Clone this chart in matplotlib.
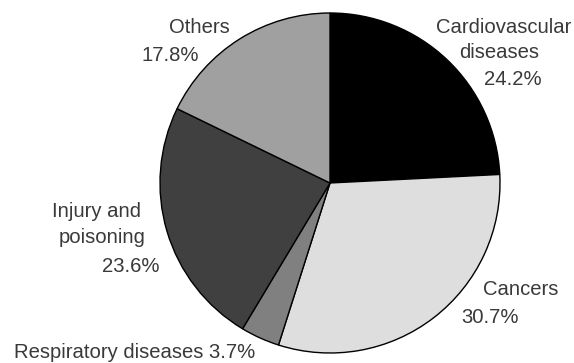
import matplotlib
matplotlib.use("Agg")
import matplotlib.pyplot as plt

# causes of death, share in percent, clockwise from 12 o'clock
causes = ["Cardiovascular diseases", "Cancers", "Respiratory diseases",
          "Injury and poisoning", "Others"]
shares = [24.2, 30.7, 3.7, 23.6, 17.8]
colors = ["#000000", "#dedede", "#808080", "#404040", "#a0a0a0"]

W, H = 574, 363
fig = plt.figure(figsize=(W / 100, H / 100), dpi=100)
ax = fig.add_axes([0, 0, 1, 1])

ax.pie(shares, colors=colors, startangle=90, counterclock=False,
       center=(330, H - 183), radius=170,
       wedgeprops=dict(edgecolor="black", linewidth=1.0))
ax.set_xlim(0, W)
ax.set_ylim(0, H)
ax.set_aspect("equal")
ax.axis("off")

txt = dict(fontsize=14.6, color="#3a3a3a", family="Liberation Sans",
           va="baseline", ha="center")

def label(x, y, s):
    # x: centre of the line, y: baseline, both in pixels from top-left
    ax.text(x, H - y, s, **txt)

pct = {c: f"{v:.1f}%" for c, v in zip(causes, shares)}

label(504, 33, "Cardiovascular")
label(499, 58, "diseases")
label(513, 85, pct["Cardiovascular diseases"])
label(199, 33, "Others")
label(170, 61, pct["Others"])
label(96, 217, "Injury and")
label(102, 243, "poisoning")
label(131, 272, pct["Injury and poisoning"])
label(521, 295, "Cancers")
label(490, 323, pct["Cancers"])
label(135, 358, "Respiratory diseases " + pct["Respiratory diseases"])

fig.savefig("out.png", dpi=100)
